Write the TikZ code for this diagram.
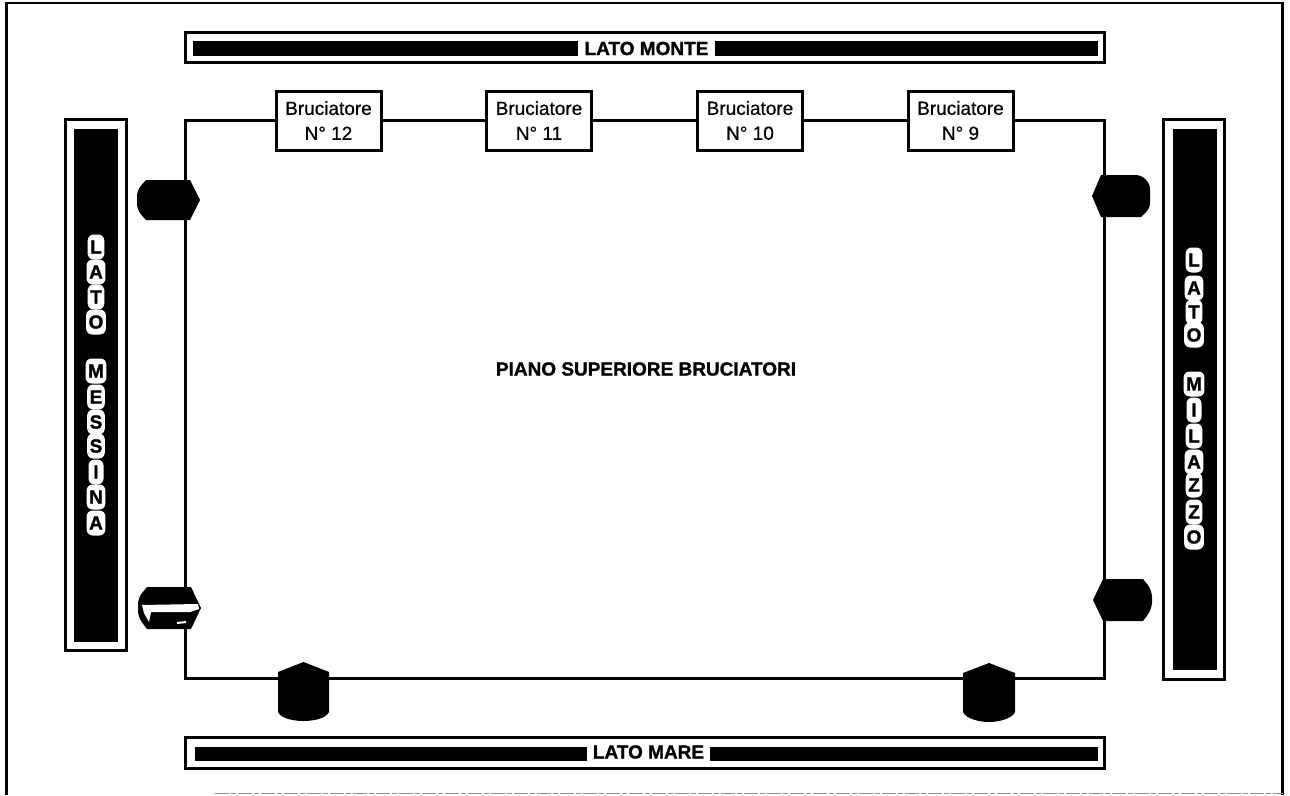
\documentclass[tikz,border=0pt]{standalone}
\usepackage{fontspec}
\setmainfont[BoldFeatures={FakeBold=1.2}]{Liberation Sans}
\newfontfamily\burnerfont[FakeBold=0.5]{Liberation Sans}
\begin{document}
\begin{tikzpicture}[x=1pt,y=-1pt,
  frameline/.style={line width=2.5pt,draw=black},
  barframe/.style={draw=black,line width=3pt,fill=white,inner sep=0pt},
  barcore/.style={fill=black,inner sep=0pt},
  barlabel/.style={fill=white,inner sep=0pt,font=\fontsize{19}{19}\selectfont\bfseries,minimum height=17pt},
  burner/.style={draw=black,line width=3pt,fill=white,inner sep=0pt,minimum width=105pt,minimum height=59pt,align=center,font=\fontsize{19}{25}\selectfont\burnerfont},
  plate/.style={draw=black,line width=3pt,inner sep=0pt},
  vletter/.style={fill=white,rounded corners=6pt,inner xsep=2.5pt,inner ysep=2pt,text=black,font=\fontsize{19}{19}\selectfont\bfseries,minimum height=25pt,minimum width=15pt},
  endcap/.style={fill=black}]
\useasboundingbox (0,0) rectangle (1290,795);
\fill[white] (0,0) rectangle (1290,795);
% page frame
\coordinate (pageBL) at (6.5,795);
\coordinate (pageTL) at (6.5,3);
\coordinate (pageTR) at (1282.5,3);
\coordinate (pageBR) at (1282.5,795);
\draw[frameline] (pageBL) -- (pageTL) -- (pageTR) -- (pageBR);
\coordinate (footL) at (215,793.5);
\draw[black!45,line width=1.2pt,dash pattern=on 14pt off 2pt on 5pt off 2pt] (footL) -- (pageBR |- footL);
% plate
\node[plate,minimum width=919pt,minimum height=558pt] (plateN) at (645,399.5) {};
\node[font=\fontsize{19}{19}\selectfont\bfseries,inner sep=0pt] (title) at (646,369) {PIANO SUPERIORE BRUCIATORI};
% burners
\node[burner] (b12) at (328.5,120.5) {Bruciatore\\N° 12};
\node[burner] (b11) at (539,120.5) {Bruciatore\\N° 11};
\node[burner] (b10) at (750,120.5) {Bruciatore\\N° 10};
\node[burner] (b9) at (960.5,120.5) {Bruciatore\\N° 9};
% top bar
\node[barframe,minimum width=919pt,minimum height=30pt] (topF) at (645,47.5) {};
\node[barcore,minimum width=905pt,minimum height=15pt] (topC) at (645.5,48.5) {};
\node[barlabel,minimum width=137pt] (topL) at (646.5,48.5) {LATO MONTE};
% bottom bar
\node[barframe,minimum width=919pt,minimum height=31pt] (botF) at (645,753) {};
\node[barcore,minimum width=903pt,minimum height=14pt] (botC) at (646.5,754) {};
\node[barlabel,minimum width=123pt] (botL) at (648.5,752) {LATO MARE};
% left bar
\node[barframe,minimum width=61pt,minimum height=531pt] (leftF) at (95.5,385) {};
\node[barcore,minimum width=44pt,minimum height=513pt] (leftC) at (96,385.5) {};
% right bar
\node[barframe,minimum width=61pt,minimum height=560pt] (rightF) at (1193.5,399.5) {};
\node[barcore,minimum width=44pt,minimum height=541pt] (rightC) at (1195,399.5) {};
% vertical letters, left
\foreach \ch/\yy/\nm in {L/247/a,A/272/b,T/297/c,O/322/d,M/371/e,E/397/f,S/422/g,S/446/h,I/472/i,N/497/j,A/523/k}
  \node[vletter] (ml\nm) at (96,\yy) {\ch};
% vertical letters, right
\foreach \ch/\yy/\nm in {L/260/a,A/288/b,T/312/c,O/335/d,M/384/e,I/410/f,L/436/g,A/462/h,Z/485/i,Z/512/j,O/537/k}
  \node[vletter] (mr\nm) at (1194,\yy) {\ch};
% end caps, left side
\fill[endcap] (190,180) -- (200,200) -- (190,220) -- (146,220) [rounded corners=6pt] -- (137,210) -- (137,190) [sharp corners] -- (146,180) -- cycle;
\fill[endcap] (191,587) -- (201,608) -- (191,629) -- (147,629) [rounded corners=6pt] -- (138,617) -- (138,598) [sharp corners] -- (147,587) -- cycle;
\fill[white] (142,605) -- (198,604) -- (199,609) -- (190,612) -- (151,612) -- (149,622) -- (144,613) -- cycle;
\fill[white] (177,622) -- (186,621) -- (186,623) -- (177,624) -- cycle;
% end caps, right side
\fill[endcap] (1101,175) -- (1092,196) -- (1101,217) -- (1141,217) [rounded corners=5pt] -- (1150,208) -- (1150,184) -- (1141,175) [sharp corners] -- cycle;
\fill[endcap] (1103,579) -- (1093,600) -- (1103,621) -- (1143,621) [rounded corners=7pt] -- (1152,609) -- (1152,590) [sharp corners] -- (1143,579) -- cycle;
% end caps, bottom side
\fill[endcap] (303.5,662) -- (329,672) -- (329,712) .. controls (326,719) and (312,721) .. (303.5,721) .. controls (295,721) and (281,719) .. (278,712) -- (278,672) -- cycle;
\fill[endcap] (989,663) -- (1015,673) -- (1015,712) .. controls (1012,719) and (998,722) .. (989,722) .. controls (980,722) and (966,719) .. (963,712) -- (963,673) -- cycle;
\end{tikzpicture}
\end{document}
